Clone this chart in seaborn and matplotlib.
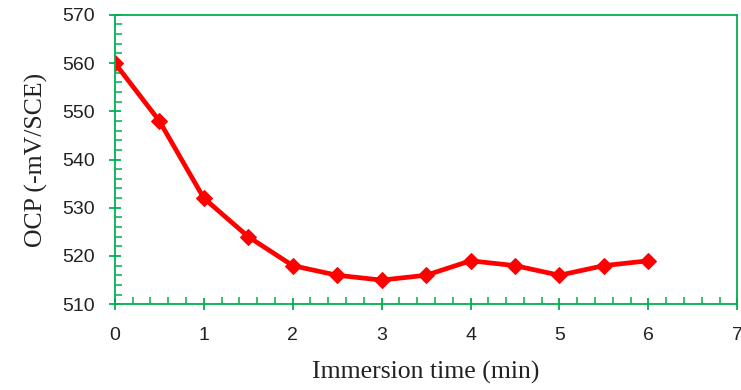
import matplotlib
matplotlib.use("Agg")
import matplotlib.pyplot as plt
from matplotlib.ticker import MultipleLocator
import seaborn as sns

# immersion time (min) and open circuit potential (-mV/SCE)
time_min = [0, 0.5, 1, 1.5, 2, 2.5, 3, 3.5, 4, 4.5, 5, 5.5, 6]
ocp = [560, 548, 532, 524, 518, 516, 515, 516, 519, 518, 516, 518, 519]

sns.set_style("white")
plt.rcParams["font.family"] = ["Liberation Sans", "DejaVu Sans"]

green = "#00B050"

fig = plt.figure(figsize=(7.41, 3.90), dpi=100)
ax = fig.add_axes([0.155, 0.22, 0.84, 0.742])

sns.lineplot(x=time_min, y=ocp, ax=ax, color="#FF0000", linewidth=3.4,
             marker="D", markersize=8.5, markeredgecolor="#FF0000")

ax.set_xlim(0, 7)
ax.set_ylim(510, 570)
ax.xaxis.set_major_locator(MultipleLocator(1))
ax.xaxis.set_minor_locator(MultipleLocator(0.2))
ax.yaxis.set_major_locator(MultipleLocator(10))
ax.yaxis.set_minor_locator(MultipleLocator(2))

for s in ax.spines.values():
    s.set_color(green)
    s.set_linewidth(1.3)

ax.tick_params(which="major", direction="inout", length=9, width=1.3,
               color=green, labelsize=14, labelcolor="#222222")
ax.tick_params(axis="x", which="major", pad=12)
ax.tick_params(axis="y", which="major", pad=10)
ax.tick_params(which="minor", direction="in", length=5, width=1.1, color=green)
ax.tick_params(axis="x", which="both", bottom=True)
ax.tick_params(axis="y", which="both", left=True)

ax.set_xlabel("Immersion time (min)", family="Liberation Serif", fontsize=18.5,
              color="#222222", labelpad=12)
ax.set_ylabel("OCP (-mV/SCE)", family="Liberation Serif", fontsize=18.5,
              color="#222222", labelpad=10)

fig.savefig("out.png", dpi=100)
